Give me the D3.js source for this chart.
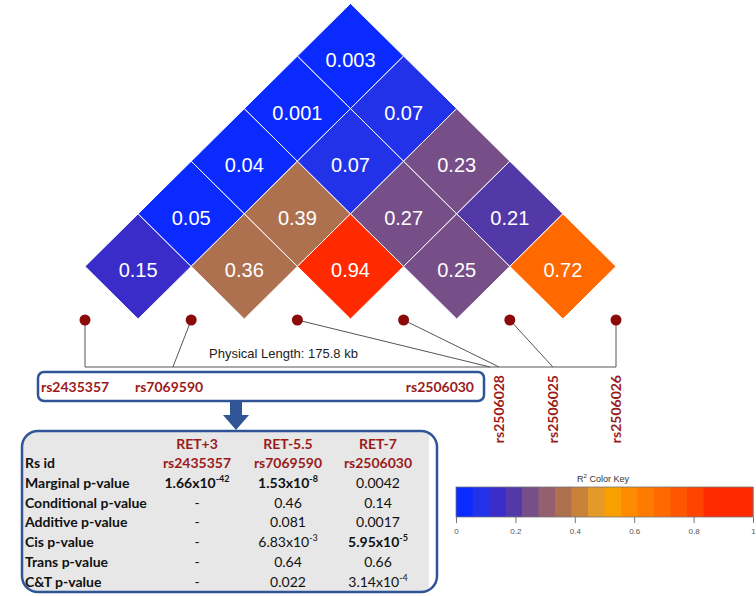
<!DOCTYPE html>
<html>
<head>
<meta charset="utf-8">
<script src="https://cdn.jsdelivr.net/npm/d3@7"></script>
<style>
    body { margin: 0; background: #ffffff; }
    svg { display: block; }
</style>
</head>
<body>
<div id="chart"></div>
<script>
// ---- data ----
const snpIds = ["rs2435357", "rs7069590", "rs2506030", "rs2506028", "rs2506025", "rs2506026"];
// position of each SNP along the physical map (kb from the first SNP)
const snpPosKb = [0, 29.1, 134.1, 137.1, 154.9, 175.8];
const physicalLengthKb = 175.8;

// upper triangle of the R2 matrix, row i / column j (j > i)
const r2Matrix = [
    [null, 0.15, 0.05, 0.04, 0.001, 0.003],
    [null, null, 0.36, 0.39, 0.07, 0.07],
    [null, null, null, 0.94, 0.27, 0.23],
    [null, null, null, null, 0.25, 0.21],
    [null, null, null, null, null, 0.72],
    [null, null, null, null, null, null]
];

const keyColors = ["#0a2aff", "#2232e8", "#3a2cc8", "#5339a8", "#764e88", "#94606e", "#ae7150",
    "#c8823a", "#e39a28", "#f7a000", "#ff8c00", "#ff7b00", "#ff6900", "#ff5700", "#ff4400",
    "#ff2b00", "#ff2a00", "#ff2a00"];
const keyTicks = [0, 0.2, 0.4, 0.6, 0.8, 1];

const tableGenes = ["RET+3", "RET-5.5", "RET-7"];
const tableSnps = ["rs2435357", "rs7069590", "rs2506030"];
const tableRows = ["Marginal p-value", "Conditional p-value", "Additive p-value",
    "Cis p-value", "Trans p-value", "C&T p-value"];
const tableValues = [
    ["1.66x10^-42", "1.53x10^-8", "0.0042"],
    ["-", "0.46", "0.14"],
    ["-", "0.081", "0.0017"],
    ["-", "6.83x10^-3", "5.95x10^-5"],
    ["-", "0.64", "0.66"],
    ["-", "0.022", "3.14x10^-4"]
];
const boldCells = ["0-0", "0-1", "3-2"];

// ---- layout ----
const width = 756, height = 596;
const dotY = 320, axisY = 367;
const halfH = 52.6;
const red = "#9b1b1b", blue = "#2f5597";
const sans = "'Liberation Sans', Arial, sans-serif";
const labelFont = "Lato, 'Open Sans', sans-serif";

const svg = d3.select("#chart").append("svg")
    .attr("width", width)
    .attr("height", height);

const xIndex = d3.scaleLinear().domain([0, snpIds.length - 1]).range([85, 616]);
const xPhys = d3.scaleLinear().domain([0, physicalLengthKb]).range([85, 616]);
const yDist = d3.scaleLinear().domain([0, snpIds.length - 1]).range([dotY - 1, dotY - 1 - 5 * halfH]);
const halfW = (xIndex(1) - xIndex(0)) / 2;

// binned colour scale (0.39 shown rounded, drawn in the same bin as 0.36)
const thresholds = d3.range(1, keyColors.length).map(i => i / keyColors.length);
thresholds[6] = 0.4;
const color = d3.scaleThreshold().domain(thresholds).range(keyColors);

// ---- LD heatmap ----
const cells = [];
r2Matrix.forEach((row, i) => row.forEach((v, j) => {
    if (v !== null) cells.push({i: i, j: j, r2: v});
}));

const cellG = svg.append("g").attr("class", "heatmapG")
    .selectAll(".cellG")
    .data(cells)
    .join("g")
    .attr("class", "cellG")
    .attr("transform", d => "translate(" + (xIndex(d.i) + xIndex(d.j)) / 2 + "," + yDist(d.j - d.i) + ")");

cellG.append("path")
    .attr("d", "M" + (-halfW) + ",0L0," + (-halfH) + "L" + halfW + ",0L0," + halfH + "Z")
    .attr("fill", d => color(d.r2))
    .attr("stroke", "#ffffff")
    .attr("stroke-width", 1);

cellG.append("text")
    .attr("y", 11)
    .attr("text-anchor", "middle")
    .attr("fill", "#ffffff")
    .style("font-family", sans)
    .style("font-size", "20px")
    .text(d => d.r2);

// ---- physical map ----
const mapG = svg.append("g").attr("class", "mapG");
mapG.append("line")
    .attr("x1", xPhys(0)).attr("x2", xPhys(physicalLengthKb))
    .attr("y1", axisY).attr("y2", axisY)
    .attr("stroke", "#555").attr("stroke-width", 1);

mapG.selectAll(".snpLine")
    .data(snpPosKb)
    .join("line")
    .attr("class", "snpLine")
    .attr("x1", (d, k) => xIndex(k)).attr("y1", dotY)
    .attr("x2", d => xPhys(d)).attr("y2", axisY)
    .attr("stroke", "#555").attr("stroke-width", 1);

mapG.selectAll(".snpDot")
    .data(snpPosKb)
    .join("circle")
    .attr("class", "snpDot")
    .attr("cx", (d, k) => xIndex(k))
    .attr("cy", dotY)
    .attr("r", 5.5)
    .attr("fill", "#8b0a0a");

mapG.append("text")
    .attr("x", 209).attr("y", 358)
    .attr("fill", "#222")
    .style("font-family", sans)
    .style("font-size", "13px")
    .text("Physical Length: " + physicalLengthKb + " kb");

// box around the three tested SNPs
mapG.append("rect")
    .attr("x", 38).attr("y", 372)
    .attr("width", 446).attr("height", 29)
    .attr("rx", 6)
    .attr("fill", "#ffffff")
    .attr("stroke", blue).attr("stroke-width", 2.5);

const boxLabels = [{x: 41, anchor: "start"}, {x: 135, anchor: "start"}, {x: 474, anchor: "end"}];
mapG.selectAll(".boxLabel")
    .data(boxLabels)
    .join("text")
    .attr("class", "boxLabel")
    .attr("x", d => d.x).attr("y", 392)
    .attr("text-anchor", d => d.anchor)
    .attr("fill", red)
    .style("font-family", labelFont)
    .style("font-size", "14px")
    .style("font-weight", "bold")
    .text((d, k) => snpIds[k]);

mapG.selectAll(".rotLabel")
    .data(snpIds.slice(3))
    .join("text")
    .attr("class", "rotLabel")
    .attr("transform", (d, k) => "translate(" + (xPhys(snpPosKb[k + 3]) + 5) + ",375) rotate(-90)")
    .attr("text-anchor", "end")
    .attr("fill", red)
    .style("font-family", labelFont)
    .style("font-size", "14px")
    .style("font-weight", "bold")
    .text(d => d);

// arrow down to the table
mapG.append("path")
    .attr("d", "M230,402L242,402L242,415L249,415L236,430L223,415L230,415Z")
    .attr("fill", blue);

// ---- table ----
const tableG = svg.append("g").attr("class", "tableG");
const defs = svg.append("defs");
defs.append("clipPath").attr("id", "tableClip")
    .append("rect")
    .attr("x", 22).attr("y", 431).attr("width", 415).attr("height", 161).attr("rx", 16);

tableG.append("rect")
    .attr("x", 22).attr("y", 431).attr("width", 415).attr("height", 161).attr("rx", 16)
    .attr("fill", "#ffffff");
tableG.append("rect")
    .attr("clip-path", "url(#tableClip)")
    .attr("x", 22).attr("y", 431).attr("width", 407).attr("height", 161)
    .attr("fill", "#e7e7e7");
tableG.append("rect")
    .attr("x", 22).attr("y", 431).attr("width", 415).attr("height", 161).attr("rx", 16)
    .attr("fill", "none")
    .attr("stroke", blue).attr("stroke-width", 2.5);

const colX = [197, 288, 378];
const rowY = k => 468 + 19.8 * k;

function addText(x, y, str, anchor, fill, bold) {
    const parts = str.split("^");
    const t = tableG.append("text")
        .attr("x", x).attr("y", y)
        .attr("text-anchor", anchor)
        .attr("fill", fill)
        .style("font-family", labelFont)
        .style("font-size", "14px")
        .style("font-weight", bold ? "bold" : "normal");
    t.append("tspan").text(parts[0]);
    if (parts.length > 1) {
        t.append("tspan")
            .attr("dy", -6)
            .style("font-size", "9px")
            .text(parts[1]);
    }
}

tableGenes.forEach((g, c) => addText(colX[c], 449, g, "middle", red, true));
addText(25, rowY(0), "Rs id", "start", "#111", true);
tableSnps.forEach((s, c) => addText(colX[c], rowY(0), s, "middle", red, true));
tableRows.forEach((r, k) => {
    addText(25, rowY(k + 1), r, "start", "#111", true);
    tableValues[k].forEach((v, c) => {
        addText(colX[c], rowY(k + 1), v, "middle", "#111", boldCells.includes(k + "-" + c));
    });
});

// ---- colour key ----
const keyG = svg.append("g").attr("class", "keyG");
const keyX = d3.scaleLinear().domain([0, 1]).range([456, 753]);
const keyTop = 487, keyH = 30;

keyG.selectAll(".keyBin")
    .data(keyColors)
    .join("rect")
    .attr("class", "keyBin")
    .attr("x", (d, k) => keyX(k / keyColors.length))
    .attr("y", keyTop)
    .attr("width", keyX(1 / keyColors.length) - keyX(0) + 0.5)
    .attr("height", keyH)
    .attr("fill", d => d);

keyG.append("rect")
    .attr("x", keyX(0)).attr("y", keyTop)
    .attr("width", keyX(1) - keyX(0)).attr("height", keyH)
    .attr("fill", "none").attr("stroke", "#777").attr("stroke-width", 0.8);

const keyAxis = keyG.append("g")
    .attr("transform", "translate(0," + (keyTop + keyH) + ")")
    .call(d3.axisBottom(keyX).tickValues(keyTicks).tickSize(6).tickPadding(5).tickFormat(d3.format("")));
keyAxis.select(".domain").remove();
keyAxis.selectAll("line").attr("stroke", "#777");
keyAxis.selectAll("text")
    .attr("fill", "#555")
    .style("font-family", sans)
    .style("font-size", "8px");

const keyTitle = keyG.append("text")
    .attr("x", 603).attr("y", 482)
    .attr("text-anchor", "middle")
    .attr("fill", "#333")
    .style("font-family", sans)
    .style("font-size", "9px");
keyTitle.append("tspan").text("R");
keyTitle.append("tspan").attr("dy", -4).style("font-size", "6px").text("2");
keyTitle.append("tspan").attr("dy", 4).text(" Color Key");
</script>
</body>
</html>
